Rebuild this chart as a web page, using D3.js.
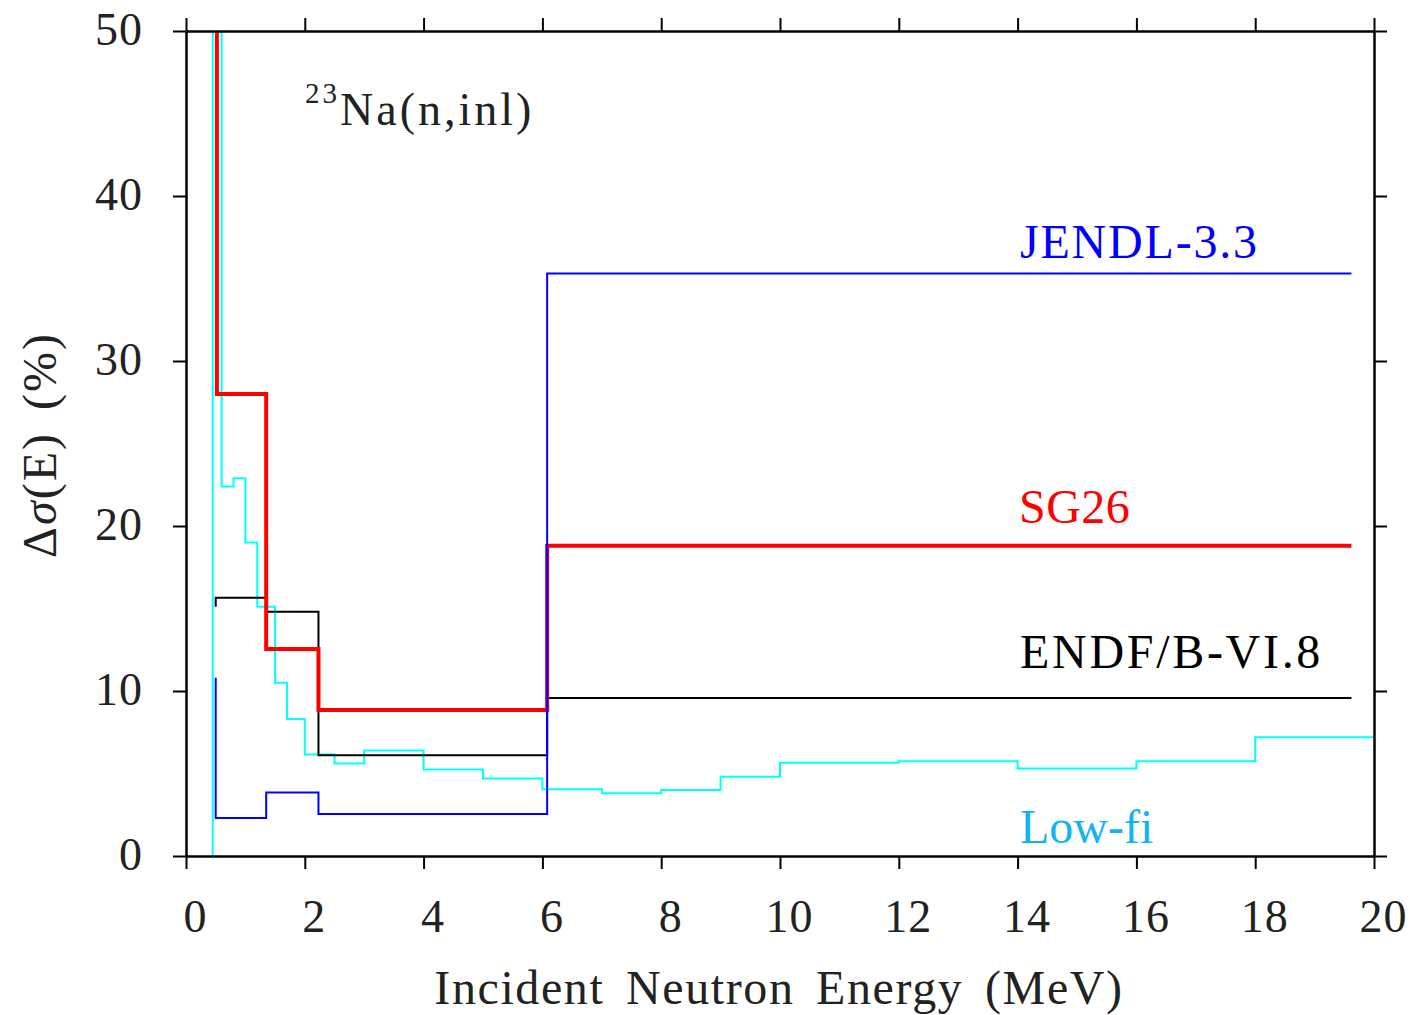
<!DOCTYPE html>
<html>
<head>
<meta charset="utf-8">
<script src="https://cdn.jsdelivr.net/npm/d3@7"></script>
<style>
  body { margin: 0; background: #fff; }
  svg text { font-family: "Liberation Serif", "DejaVu Serif", serif; fill: #222; }
</style>
</head>
<body>
<div class="chart"></div>
<script>
// step data: bin edges, bin values, and the y value the line starts from at the first edge
var endfEdges  = [0.5, 1.35, 2.23, 6.08, 19.62];
var endfValues = [15.65, 14.8, 6.1, 9.57];
var endfStart  = 15.1;

var sg26Edges  = [0.52, 1.35, 2.23, 6.08, 19.62];
var sg26Values = [28.0, 12.55, 8.85, 18.8];
var sg26Start  = 60;   // runs off the top of the frame

var jendlEdges  = [0.5, 1.35, 2.23, 6.08, 19.62];
var jendlValues = [2.3, 3.85, 2.55, 35.3];
var jendlStart  = 10.8;

var lowfiEdges  = [0.45, 0.6, 0.8, 1.0, 1.2, 1.5, 1.7, 2.0, 2.5, 3.0, 4.0, 5.0, 6.0,
                   7.0, 8.0, 9.0, 10.0, 12.0, 14.0, 16.0, 18.0, 20.0];
var lowfiValues = [60, 22.4, 22.9, 19.0, 15.1, 10.5, 8.3, 6.15, 5.6, 6.4, 5.25, 4.7,
                   4.05, 3.8, 4.0, 4.8, 5.65, 5.75, 5.3, 5.75, 7.2];
var lowfiStart  = 0;

var xTicks = [0, 2, 4, 6, 8, 10, 12, 14, 16, 18, 20];
var yTicks = [0, 10, 20, 30, 40, 50];

var margin = {top: 31, right: 37, bottom: 159, left: 186},
    width = 1411 - margin.left - margin.right,
    height = 1015 - margin.top - margin.bottom;

var x = d3.scaleLinear().domain([0, 20]).range([0, width]);
var y = d3.scaleLinear().domain([0, 50]).range([height, 0]);

var svg = d3.select(".chart").append("svg")
    .attr("width", 1411)
    .attr("height", 1015);

var g = svg.append("g")
    .attr("transform", "translate(" + margin.left + "," + margin.top + ")");

g.append("clipPath").attr("id", "clip")
  .append("rect").attr("width", width).attr("height", height);

// turn edges/values into a list of step points
function stepPoints(edges, values, start) {
  var pts = [[edges[0], start]];
  values.forEach(function(v, i) {
    pts.push([edges[i], v]);
    pts.push([edges[i + 1], v]);
  });
  return pts;
}

var line = d3.line()
    .x(function(d) { return x(d[0]); })
    .y(function(d) { return y(d[1]); });

var series = [
  {pts: stepPoints(lowfiEdges, lowfiValues, lowfiStart), color: "#00ffff", w: 2},
  {pts: stepPoints(endfEdges, endfValues, endfStart), color: "#000000", w: 2},
  {pts: stepPoints(sg26Edges, sg26Values, sg26Start), color: "#ff0000", w: 4},
  {pts: stepPoints(jendlEdges, jendlValues, jendlStart), color: "#0000ff", w: 2}
];

g.append("g").attr("clip-path", "url(#clip)")
  .selectAll("path")
  .data(series)
  .enter().append("path")
    .attr("fill", "none")
    .attr("stroke", function(d) { return d.color; })
    .attr("stroke-width", function(d) { return d.w; })
    .attr("stroke-linejoin", "miter")
    .attr("d", function(d) { return line(d.pts); });

// axes, ticks outward on all four sides
function styleAxis(sel) {
  sel.select(".domain").attr("stroke", "#000").attr("stroke-width", 2.5);
  sel.selectAll(".tick line").attr("stroke", "#000").attr("stroke-width", 2);
}

var xAxis = g.append("g")
    .attr("transform", "translate(0," + height + ")")
    .call(d3.axisBottom(x).tickValues(xTicks).tickSize(13).tickSizeOuter(0).tickPadding(30));
styleAxis(xAxis);
xAxis.selectAll(".tick text").style("font-size", "46px").attr("fill", "#222")
    .attr("dy", "0.71em").attr("dx", 9).style("letter-spacing", "1px");

var yAxis = g.append("g")
    .call(d3.axisLeft(y).tickValues(yTicks).tickSize(13).tickSizeOuter(0).tickPadding(30));
styleAxis(yAxis);
yAxis.selectAll(".tick text").style("font-size", "46px").attr("fill", "#222")
    .attr("dy", "0.3em").style("letter-spacing", "1px");

var topAxis = g.append("g")
    .call(d3.axisTop(x).tickValues(xTicks).tickSize(13).tickSizeOuter(0).tickFormat(""));
styleAxis(topAxis);

var rightAxis = g.append("g")
    .attr("transform", "translate(" + width + ",0)")
    .call(d3.axisRight(y).tickValues(yTicks).tickSize(13).tickSizeOuter(0).tickFormat(""));
styleAxis(rightAxis);

// axis titles
svg.append("text")
    .attr("x", 779)
    .attr("y", 1004)
    .attr("text-anchor", "middle")
    .style("font-size", "48px")
    .style("letter-spacing", "1.6px")
    .style("word-spacing", "8px")
    .text("Incident Neutron Energy (MeV)");

var yt = svg.append("text")
    .attr("transform", "translate(56,445) rotate(-90)")
    .attr("text-anchor", "middle")
    .style("font-size", "48px")
    .style("letter-spacing", "2px")
    .style("word-spacing", "8px");
yt.append("tspan").text("Δ");
yt.append("tspan").style("font-style", "italic").text("σ");
yt.append("tspan").text("(E) (%)");

// reaction label
var na = svg.append("text")
    .attr("x", 305)
    .attr("y", 125)
    .style("font-size", "46px")
    .style("letter-spacing", "3px");
na.append("tspan").attr("dy", "-22").style("font-size", "29px").text("23");
na.append("tspan").attr("dy", "22").text("Na(n,inl)");

// series labels
var labels = [
  {text: "JENDL-3.3", color: "#0000ff", x: 1020, y: 258, sp: 1.8},
  {text: "SG26", color: "#ff0000", x: 1019, y: 523, sp: 0.5},
  {text: "ENDF/B-VI.8", color: "#000000", x: 1020, y: 668, sp: 2.7},
  {text: "Low-fi", color: "#10b4f0", x: 1020, y: 843, sp: 0}
];

svg.selectAll(".lbl")
  .data(labels)
  .enter().append("text")
    .attr("class", "lbl")
    .attr("x", function(d) { return d.x; })
    .attr("y", function(d) { return d.y; })
    .style("font-size", "48px")
    .style("letter-spacing", function(d) { return d.sp + "px"; })
    .style("fill", function(d) { return d.color; })
    .text(function(d) { return d.text; });
</script>
</body>
</html>
